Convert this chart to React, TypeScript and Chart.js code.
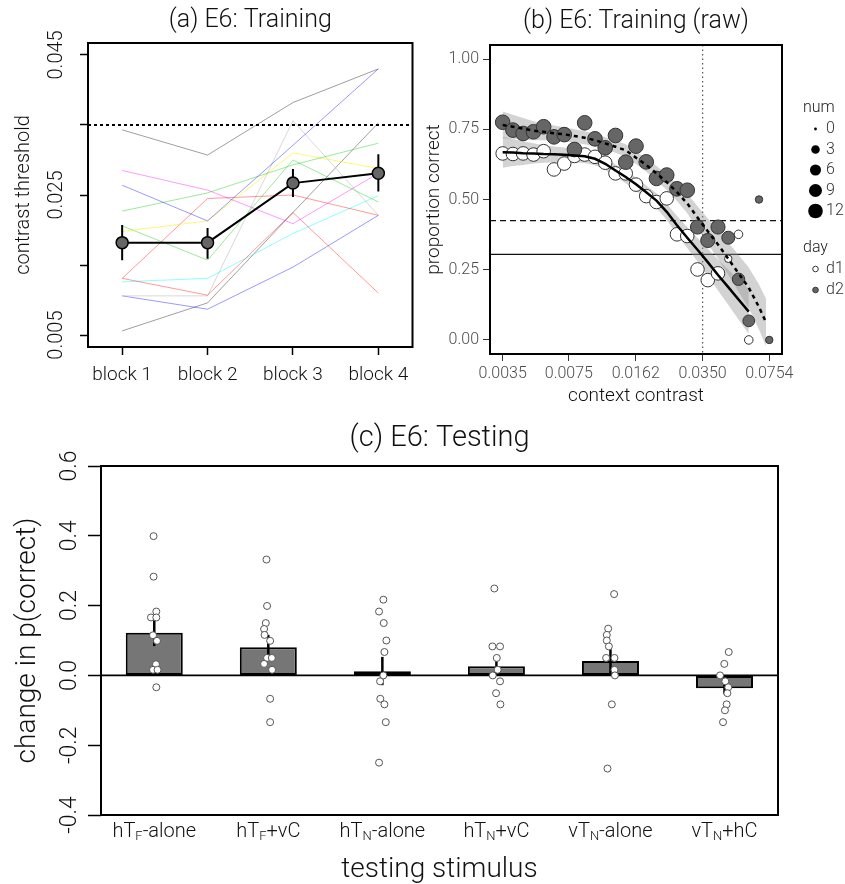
import React, { useEffect, useRef } from 'react';
import { Chart, registerables } from 'chart.js';
Chart.register(...registerables);

const FONT = 'Roboto';
const FW = '300';
Chart.defaults.font.family = FONT;
Chart.defaults.font.weight = FW as any;
Chart.defaults.color = '#111';

// ---------------- Panel (a) data ----------------
const A_TITLE = '(a) E6: Training';
const A_BLOCKS = [1, 2, 3, 4];
const A_BLOCK_LABELS = ['block 1', 'block 2', 'block 3', 'block 4'];
const A_Y_TICKS = [0.005, 0.015, 0.025, 0.035, 0.045];
const A_Y_LABELS = ['0.005', '', '0.025', '', '0.045'];
const A_THRESHOLD = 0.035;
const A_SUBJ_01 = [0.0343, 0.0307, 0.0382, 0.0430];
const A_SUBJ_02 = [0.0264, 0.0213, 0.0321, 0.0430];
const A_SUBJ_03 = [0.0285, 0.0257, 0.0209, 0.0281];
const A_SUBJ_04 = [0.0227, 0.0253, 0.0293, 0.0324];
const A_SUBJ_05 = [0.0198, 0.0213, 0.0310, 0.0288];
const A_SUBJ_06 = [0.0206, 0.0157, 0.0300, 0.0240];
const A_SUBJ_07 = [0.0131, 0.0245, 0.0250, 0.0221];
const A_SUBJ_08 = [0.0131, 0.0107, 0.0225, 0.0110];
const A_SUBJ_09 = [0.0126, 0.0131, 0.0195, 0.0249];
const A_SUBJ_10 = [0.0106, 0.0106, 0.0356, 0.0221];
const A_SUBJ_11 = [0.0106, 0.0087, 0.0147, 0.0221];
const A_SUBJ_12 = [0.0056, 0.0096, 0.0225, 0.0353];
const A_SUBJ_COLORS = [
  'rgba(0,0,0,0.38)', 'rgba(0,0,255,0.4)', 'rgba(255,0,255,0.4)', 'rgba(0,205,0,0.4)',
  'rgba(255,240,0,0.55)', 'rgba(0,205,0,0.4)', 'rgba(255,0,0,0.4)', 'rgba(255,0,0,0.4)',
  'rgba(0,255,255,0.45)', 'rgba(190,190,190,0.6)', 'rgba(0,0,255,0.4)', 'rgba(0,0,0,0.38)',
];
const A_MEAN = [0.0182, 0.0182, 0.0267, 0.0281];
const A_MEAN_LO = [0.0157, 0.0159, 0.0247, 0.0255];
const A_MEAN_HI = [0.0207, 0.0203, 0.0287, 0.0308];

// ---------------- Panel (b) data ----------------
const B_TITLE = '(b) E6: Training (raw)';
const B_CONTRAST = [
  0.0035, 0.00394, 0.00443, 0.00499, 0.00561, 0.00632, 0.00711, 0.0080, 0.0090,
  0.01013, 0.0114, 0.01283, 0.01444, 0.01625, 0.01828, 0.02057, 0.02315, 0.02605,
  0.02932, 0.03299, 0.03713, 0.04178, 0.04702, 0.05291, 0.05954, 0.0670, 0.0754,
];
const B_X_TICKS = [0.0035, 0.0075, 0.0162, 0.035, 0.0754];
const B_Y_TICKS = [0, 0.25, 0.5, 0.75, 1];
const B_D1_PROP = [0.664, 0.662, 0.664, 0.660, 0.672, 0.607, 0.628, 0.655, 0.660, 0.652, 0.631, 0.593, 0.593, 0.553, 0.512, 0.491, 0.504, 0.376, 0.370, 0.251, 0.213, 0.237, 0.289, 0.376, 0.000];
const B_D1_NUM = [10, 10, 10, 10, 10, 10, 10, 10, 10, 10, 10, 10, 10, 10, 10, 10, 10, 10, 10, 10, 10, 10, 2, 3, 3];
const B_D2_PROP = [0.775, 0.747, 0.735, 0.741, 0.759, 0.723, 0.731, 0.678, 0.773, 0.716, 0.684, 0.728, 0.633, 0.690, 0.634, 0.575, 0.587, 0.538, 0.533, 0.402, 0.354, 0.402, 0.364, 0.216, 0.068, 0.500, 0.000];
const B_D2_NUM = [12, 12, 12, 12, 12, 12, 12, 12, 12, 12, 12, 12, 12, 12, 12, 12, 12, 12, 12, 11, 11, 11, 9, 8, 7, 2, 2];
const B_FIT1 = [0.668, 0.667, 0.665, 0.664, 0.662, 0.661, 0.659, 0.657, 0.654, 0.645, 0.627, 0.603, 0.580, 0.554, 0.526, 0.496, 0.456, 0.408, 0.364, 0.321, 0.277, 0.231, 0.188, 0.144, 0.101];
const B_FIT1_LO = [0.613, 0.619, 0.623, 0.628, 0.631, 0.633, 0.633, 0.632, 0.630, 0.622, 0.605, 0.581, 0.558, 0.531, 0.502, 0.470, 0.427, 0.375, 0.327, 0.279, 0.229, 0.176, 0.125, 0.073, 0.021];
const B_FIT1_HI = [0.723, 0.715, 0.707, 0.700, 0.693, 0.689, 0.685, 0.682, 0.678, 0.668, 0.649, 0.625, 0.602, 0.577, 0.550, 0.522, 0.485, 0.441, 0.401, 0.363, 0.325, 0.286, 0.251, 0.215, 0.181];
const B_FIT2_X = [
  0.0035, 0.00394, 0.00443, 0.00499, 0.00561, 0.00632, 0.00711, 0.0080, 0.0090,
  0.01013, 0.0114, 0.01283, 0.01444, 0.01625, 0.01828, 0.02057, 0.02315, 0.02605,
  0.02932, 0.03299, 0.03713, 0.04178, 0.04702, 0.05291, 0.05954, 0.0670, 0.0727,
];
const B_FIT2 = [0.765, 0.759, 0.752, 0.745, 0.741, 0.736, 0.732, 0.726, 0.720, 0.711, 0.700, 0.688, 0.675, 0.649, 0.623, 0.593, 0.562, 0.526, 0.486, 0.436, 0.387, 0.340, 0.289, 0.237, 0.186, 0.117, 0.062];
const B_FIT2_LO = [0.717, 0.716, 0.714, 0.711, 0.711, 0.709, 0.707, 0.702, 0.697, 0.689, 0.678, 0.666, 0.653, 0.626, 0.599, 0.567, 0.534, 0.495, 0.451, 0.396, 0.342, 0.289, 0.231, 0.172, 0.114, 0.037, -0.023];
const B_FIT2_HI = [0.813, 0.802, 0.790, 0.779, 0.771, 0.763, 0.757, 0.750, 0.743, 0.733, 0.722, 0.710, 0.697, 0.672, 0.647, 0.619, 0.590, 0.557, 0.521, 0.476, 0.432, 0.391, 0.347, 0.302, 0.258, 0.197, 0.147];
const B_HLINE_DASHED = 0.425;
const B_HLINE_SOLID = 0.305;
const B_VLINE = 0.035;
const B_NUM_BREAKS = [0, 3, 6, 9, 12];
const B_NUM_MAX = 12;
const B_DAY_LABELS = ['d1', 'd2'];

// ---------------- Panel (c) data ----------------
const C_TITLE = '(c) E6: Testing';
const C_LABELS = ['hT_F-alone', 'hT_F+vC', 'hT_N-alone', 'hT_N+vC', 'vT_N-alone', 'vT_N+hC'];
const C_MEANS = [0.122, 0.081, 0.012, 0.026, 0.041, -0.037];
const C_ERR_LO = [0.084, 0.050, -0.028, 0.0, 0.003, -0.054];
const C_ERR_HI = [0.160, 0.116, 0.053, 0.053, 0.080, -0.012];
const C_Y_TICKS = [-0.4, -0.2, 0, 0.2, 0.4, 0.6];
const C_Y_LABELS = ['-0.4', '-0.2', '0.0', '0.2', '0.4', '0.6'];
const C_PTS_1 = [0.399, 0.283, 0.183, 0.166, 0.166, 0.115, 0.099, 0.032, 0.016, 0.016, -0.034];
const C_JIT_1 = [-0.006, -0.006, 0.018, -0.029, 0.018, -0.011, 0.024, 0.015, -0.011, 0.029, 0.018];
const C_PTS_2 = [0.332, 0.199, 0.150, 0.133, 0.116, 0.099, 0.050, 0.050, 0.033, 0.016, -0.067, -0.134];
const C_JIT_2 = [-0.016, -0.011, -0.022, -0.037, -0.033, 0.016, -0.011, 0.031, -0.037, 0.033, 0.016, 0.016];
const C_PTS_3 = [0.217, 0.183, 0.150, 0.100, 0.067, 0.0, -0.017, -0.067, -0.083, -0.134, -0.250];
const C_JIT_3 = [0.009, -0.029, 0.012, 0.035, 0.018, 0.009, -0.020, -0.018, 0.018, 0.030, -0.029];
const C_PTS_4 = [0.249, 0.083, 0.083, 0.050, 0.016, 0.0, -0.017, -0.051, -0.083];
const C_JIT_4 = [-0.018, -0.035, 0.032, 0.003, 0.011, -0.032, 0.032, -0.003, 0.035];
const C_PTS_5 = [0.233, 0.134, 0.116, 0.100, 0.083, 0.050, 0.050, 0.016, 0.0, -0.083, -0.267];
const C_JIT_5 = [0.032, -0.020, -0.032, -0.032, -0.014, -0.038, 0.035, 0.035, 0.039, 0.012, -0.026];
const C_PTS_6 = [0.067, 0.033, 0.0, -0.017, -0.034, -0.051, -0.083, -0.100, -0.134];
const C_JIT_6 = [0.037, -0.002, -0.039, 0.007, 0.033, 0.025, 0.019, 0.004, -0.013];

// ---------------- helpers / plugins ----------------
// ggplot-like area size scale: diameter from 1 to 6 units over sqrt(num / max)
const sizeFor = (n: number) => 1.22 * (1 + 5 * Math.sqrt(n / B_NUM_MAX));
const fnt = (size: number) => `${FW} ${size}px ${FONT}`;

const boxPlugin = {
  id: 'box',
  afterDatasetsDraw(chart: any, _a: any, o: any) {
    const { ctx, chartArea: a } = chart;
    ctx.save();
    ctx.strokeStyle = '#000';
    ctx.lineWidth = o.width || 2;
    ctx.strokeRect(a.left, a.top, a.right - a.left, a.bottom - a.top);
    ctx.restore();
  },
};

const rotYPlugin = {
  id: 'rotY',
  afterDraw(chart: any, _a: any, o: any) {
    const s = chart.scales.y;
    const ctx = chart.ctx;
    ctx.save();
    ctx.font = fnt(o.size);
    ctx.fillStyle = o.color || '#111';
    ctx.textAlign = 'center';
    ctx.textBaseline = 'middle';
    o.values.forEach((v: number, i: number) => {
      const lab = o.labels[i];
      if (!lab) return;
      const y = s.getPixelForValue(v);
      ctx.save();
      ctx.translate(o.x, y);
      ctx.rotate(-Math.PI / 2);
      ctx.fillText(lab, 0, 0);
      ctx.restore();
    });
    ctx.restore();
  },
};

const refLinesPlugin = {
  id: 'refLines',
  beforeDatasetsDraw(chart: any, _a: any, o: any) {
    const { ctx, chartArea: a, scales } = chart;
    ctx.save();
    (o.h || []).forEach((h: any) => {
      const y = scales.y.getPixelForValue(h.value);
      ctx.setLineDash(h.dash || []);
      ctx.lineWidth = h.width;
      ctx.strokeStyle = h.color;
      ctx.beginPath();
      ctx.moveTo(a.left, y);
      ctx.lineTo(a.right, y);
      ctx.stroke();
    });
    (o.v || []).forEach((v: any) => {
      const x = scales.x.getPixelForValue(v.value);
      ctx.setLineDash(v.dash || []);
      ctx.lineWidth = v.width;
      ctx.strokeStyle = v.color;
      ctx.beginPath();
      ctx.moveTo(x, a.top);
      ctx.lineTo(x, a.bottom);
      ctx.stroke();
    });
    ctx.restore();
  },
};

const sizeLegendPlugin = {
  id: 'sizeLegend',
  afterDraw(chart: any, _a: any, o: any) {
    const ctx = chart.ctx;
    ctx.save();
    ctx.textBaseline = 'middle';
    ctx.textAlign = 'left';
    ctx.font = fnt(16);
    ctx.fillStyle = '#222';
    ctx.fillText('num', o.x, o.numY);
    B_NUM_BREAKS.forEach((n, i) => {
      const y = o.numY + 21 + i * 20.5;
      ctx.beginPath();
      ctx.arc(o.symX, y, n === 0 ? 1.4 : sizeFor(n), 0, Math.PI * 2);
      ctx.fillStyle = '#000';
      ctx.fill();
      ctx.fillStyle = '#333';
      ctx.fillText(String(n), o.labX, y);
    });
    ctx.fillStyle = '#222';
    ctx.fillText('day', o.x, o.dayY);
    B_DAY_LABELS.forEach((d, i) => {
      const y = o.dayY + 21 + i * 21;
      ctx.beginPath();
      ctx.arc(o.symX, y, 2.8, 0, Math.PI * 2);
      ctx.fillStyle = i === 0 ? '#fff' : '#666';
      ctx.fill();
      ctx.lineWidth = 1;
      ctx.strokeStyle = '#333';
      ctx.stroke();
      ctx.fillStyle = '#333';
      ctx.fillText(d, o.labX, y);
    });
    ctx.restore();
  },
};

function parseSub(label: string) {
  const parts: { t: string; sub: boolean }[] = [];
  let buf = '';
  for (let i = 0; i < label.length; i++) {
    if (label[i] === '_') {
      if (buf) parts.push({ t: buf, sub: false });
      buf = '';
      parts.push({ t: label[i + 1], sub: true });
      i++;
    } else buf += label[i];
  }
  if (buf) parts.push({ t: buf, sub: false });
  return parts;
}

const subLabelsPlugin = {
  id: 'subLabels',
  afterDraw(chart: any, _a: any, o: any) {
    const ctx = chart.ctx;
    const s = chart.scales.x;
    const y0 = chart.chartArea.bottom + o.offset;
    ctx.save();
    ctx.fillStyle = '#111';
    ctx.textBaseline = 'middle';
    ctx.textAlign = 'left';
    o.labels.forEach((lab: string, i: number) => {
      const parts = parseSub(lab);
      let w = 0;
      parts.forEach((p) => {
        ctx.font = fnt(p.sub ? o.subSize : o.size);
        w += ctx.measureText(p.t).width;
      });
      let x = s.getPixelForValue(i) - w / 2;
      parts.forEach((p) => {
        ctx.font = fnt(p.sub ? o.subSize : o.size);
        ctx.fillText(p.t, x, p.sub ? y0 + 5 : y0);
        x += ctx.measureText(p.t).width;
      });
    });
    ctx.restore();
  },
};

const noHover = { legend: { display: false }, tooltip: { enabled: false } };

// ---------------- Panel (a) ----------------
function PanelA() {
  const ref = useRef<HTMLCanvasElement>(null);
  useEffect(() => {
    const subjects = [A_SUBJ_01, A_SUBJ_02, A_SUBJ_03, A_SUBJ_04, A_SUBJ_05, A_SUBJ_06, A_SUBJ_07, A_SUBJ_08, A_SUBJ_09, A_SUBJ_10, A_SUBJ_11, A_SUBJ_12];
    const datasets: any[] = [];
    datasets.push({
      data: A_BLOCKS.map((b, i) => ({ x: b, y: A_MEAN[i] })),
      borderColor: '#000', borderWidth: 2, pointRadius: 6,
      pointBackgroundColor: '#666', pointBorderColor: '#000', pointBorderWidth: 1.5,
    });
    A_BLOCKS.forEach((b, i) => datasets.push({
      data: [{ x: b, y: A_MEAN_LO[i] }, { x: b, y: A_MEAN_HI[i] }],
      borderColor: '#000', borderWidth: 2, pointRadius: 0,
    }));
    datasets.push({
      data: [{ x: 0.6, y: A_THRESHOLD }, { x: 4.4, y: A_THRESHOLD }],
      borderColor: '#000', borderWidth: 2, borderDash: [3, 3], pointRadius: 0,
    });
    subjects.forEach((s, k) => datasets.push({
      data: A_BLOCKS.map((b, i) => ({ x: b, y: s[i] })),
      borderColor: A_SUBJ_COLORS[k], borderWidth: 1, pointRadius: 0,
    }));
    const chart = new Chart(ref.current!, {
      type: 'line',
      data: { datasets },
      plugins: [boxPlugin, rotYPlugin],
      options: {
        animation: false, responsive: false,
        layout: { padding: { left: 0, right: 5, top: 0, bottom: 0 } },
        plugins: {
          ...noHover,
          title: { display: true, text: A_TITLE, fullSize: false, font: { size: 25, weight: FW, lineHeight: 1.2 }, color: '#111', padding: { top: 6, bottom: 7 } },
          box: { width: 2 },
          rotY: { values: A_Y_TICKS, labels: A_Y_LABELS, x: 57, size: 20 },
        } as any,
        scales: {
          x: {
            type: 'linear', min: 0.6, max: 4.4,
            afterBuildTicks: (s: any) => { s.ticks = A_BLOCKS.map((v) => ({ value: v })); },
            afterFit: (s: any) => { s.height = 53; },
            grid: { drawOnChartArea: false, drawTicks: true, tickLength: 8, tickColor: '#000', tickWidth: 1.5 },
            border: { display: false },
            ticks: { padding: 9, font: { size: 19 }, color: '#111', autoSkip: false, maxRotation: 0,
              callback: (v: any) => A_BLOCK_LABELS[A_BLOCKS.indexOf(v)] ?? '' },
          },
          y: {
            type: 'linear', min: 0.0033, max: 0.0467,
            afterBuildTicks: (s: any) => { s.ticks = A_Y_TICKS.map((v) => ({ value: v })); },
            afterFit: (s: any) => { s.width = 88; },
            grid: { drawOnChartArea: false, drawTicks: true, tickLength: 8, tickColor: '#000', tickWidth: 1.5 },
            border: { display: false },
            ticks: { display: false },
            title: { display: true, text: 'contrast threshold', font: { size: 20 }, color: '#111', padding: { top: 12, bottom: 0 } },
          },
        },
      } as any,
    });
    return () => chart.destroy();
  }, []);
  return <canvas ref={ref} width={420} height={400} style={{ position: 'absolute', left: 0, top: 0, width: 420, height: 400 }} />;
}

// ---------------- Panel (b) ----------------
function PanelB() {
  const ref = useRef<HTMLCanvasElement>(null);
  useEffect(() => {
    const ribbon = 'rgba(150,150,150,0.42)';
    const datasets: any[] = [
      { data: B_FIT1.map((v, i) => ({ x: B_CONTRAST[i], y: v })), borderColor: '#000', borderWidth: 2.5, pointRadius: 0 },
      { data: B_FIT2.map((v, i) => ({ x: B_FIT2_X[i], y: v })), borderColor: '#000', borderWidth: 2.5, borderDash: [4, 4], pointRadius: 0 },
      {
        data: B_D2_PROP.map((v, i) => ({ x: B_CONTRAST[i], y: v })), showLine: false,
        pointRadius: (c: any) => sizeFor(B_D2_NUM[c.dataIndex]),
        pointBackgroundColor: '#666', pointBorderColor: '#333', pointBorderWidth: 1,
      },
      {
        data: B_D1_PROP.map((v, i) => ({ x: B_CONTRAST[i], y: v })), showLine: false,
        pointRadius: (c: any) => sizeFor(B_D1_NUM[c.dataIndex]),
        pointBackgroundColor: '#fff', pointBorderColor: '#333', pointBorderWidth: 1,
      },
      { data: B_FIT1_HI.map((v, i) => ({ x: B_CONTRAST[i], y: v })), borderWidth: 0, borderColor: 'rgba(0,0,0,0)', pointRadius: 0 },
      { data: B_FIT1_LO.map((v, i) => ({ x: B_CONTRAST[i], y: v })), borderWidth: 0, borderColor: 'rgba(0,0,0,0)', pointRadius: 0, fill: '-1', backgroundColor: ribbon },
      { data: B_FIT2_HI.map((v, i) => ({ x: B_FIT2_X[i], y: v })), borderWidth: 0, borderColor: 'rgba(0,0,0,0)', pointRadius: 0 },
      { data: B_FIT2_LO.map((v, i) => ({ x: B_FIT2_X[i], y: v })), borderWidth: 0, borderColor: 'rgba(0,0,0,0)', pointRadius: 0, fill: '-1', backgroundColor: ribbon },
    ];
    const chart = new Chart(ref.current!, {
      type: 'line',
      data: { datasets },
      plugins: [boxPlugin, refLinesPlugin, sizeLegendPlugin],
      options: {
        animation: false, responsive: false,
        layout: { padding: { left: 0, right: 63, top: 0, bottom: 0 } },
        plugins: {
          ...noHover,
          title: { display: true, text: B_TITLE, fullSize: false, font: { size: 25, weight: FW, lineHeight: 1.2 }, color: '#111', padding: { top: 6.7, bottom: 8.3 } },
          box: { width: 2 },
          refLines: {
            h: [
              { value: B_HLINE_DASHED, dash: [6, 4], width: 1.2, color: '#111' },
              { value: B_HLINE_SOLID, dash: [], width: 1.2, color: '#111' },
            ],
            v: [{ value: B_VLINE, dash: [1.5, 3], width: 1.2, color: '#555' }],
          },
          sizeLegend: { x: 383, numY: 108, symX: 395.5, labX: 406, dayY: 248 },
        } as any,
        scales: {
          x: {
            type: 'logarithmic', min: 0.003025, max: 0.0873,
            afterBuildTicks: (s: any) => { s.ticks = B_X_TICKS.map((v) => ({ value: v })); },
            afterFit: (s: any) => { s.height = 56; },
            grid: { drawOnChartArea: false, drawTicks: true, tickLength: 7, tickColor: '#333', tickWidth: 1 },
            border: { display: false },
            ticks: { padding: 3, font: { size: 16 }, color: '#4d4d4d', autoSkip: false, maxRotation: 0,
              callback: (v: any) => Number(v).toFixed(4) },
            title: { display: true, text: 'context contrast', font: { size: 19 }, color: '#111', padding: { top: 0, bottom: 2 } },
          },
          y: {
            type: 'linear', min: -0.05, max: 1.05,
            afterBuildTicks: (s: any) => { s.ticks = B_Y_TICKS.map((v) => ({ value: v })); },
            afterFit: (s: any) => { s.width = 70; },
            grid: { drawOnChartArea: false, drawTicks: true, tickLength: 7, tickColor: '#333', tickWidth: 1 },
            border: { display: false },
            ticks: { padding: 4, font: { size: 16 }, color: '#4d4d4d', callback: (v: any) => Number(v).toFixed(2) },
            title: { display: true, text: 'proportion correct', font: { size: 19 }, color: '#111', padding: { top: 3, bottom: 0 } },
          },
        },
      } as any,
    });
    return () => chart.destroy();
  }, []);
  return <canvas ref={ref} width={425} height={410} style={{ position: 'absolute', left: 420, top: 0, width: 425, height: 410 }} />;
}

// ---------------- Panel (c) ----------------
function PanelC() {
  const ref = useRef<HTMLCanvasElement>(null);
  useEffect(() => {
    const pts = [C_PTS_1, C_PTS_2, C_PTS_3, C_PTS_4, C_PTS_5, C_PTS_6];
    const jit = [C_JIT_1, C_JIT_2, C_JIT_3, C_JIT_4, C_JIT_5, C_JIT_6];
    const pointData: { x: number; y: number }[] = [];
    pts.forEach((arr, i) => arr.forEach((v, j) => pointData.push({ x: i + jit[i][j], y: v })));
    const datasets: any[] = [];
    datasets.push({
      type: 'line', data: pointData, showLine: false, pointRadius: 3.5,
      pointBackgroundColor: '#fff', pointBorderColor: '#555', pointBorderWidth: 1,
    });
    C_MEANS.forEach((_, i) => datasets.push({
      type: 'line', data: [{ x: i, y: C_ERR_LO[i] }, { x: i, y: C_ERR_HI[i] }],
      borderColor: '#000', borderWidth: 2.5, pointRadius: 0,
    }));
    datasets.push({
      type: 'bar', data: C_MEANS.map((m, i) => ({ x: i, y: m })),
      backgroundColor: '#767676', borderColor: '#000', borderWidth: 2, borderSkipped: false,
      barPercentage: 0.5, categoryPercentage: 1,
    });
    const chart = new Chart(ref.current!, {
      type: 'bar',
      data: { datasets },
      plugins: [boxPlugin, rotYPlugin, subLabelsPlugin, refLinesPlugin],
      options: {
        animation: false, responsive: false,
        layout: { padding: { left: 0, right: 67, top: 0, bottom: 0 } },
        plugins: {
          ...noHover,
          title: { display: true, text: C_TITLE, fullSize: false, font: { size: 29, weight: FW, lineHeight: 1.2 }, color: '#111', padding: { top: 11.6, bottom: 9.6 } },
          box: { width: 2 },
          rotY: { values: C_Y_TICKS, labels: C_Y_LABELS, x: 70, size: 23 },
          subLabels: { labels: C_LABELS, offset: 17, size: 20, subSize: 13 },
          refLines: { h: [{ value: 0, dash: [], width: 1.8, color: '#000' }] },
        } as any,
        scales: {
          x: {
            type: 'linear', min: -0.467, max: 5.469, offset: false,
            afterBuildTicks: (s: any) => { s.ticks = C_MEANS.map((_, i) => ({ value: i })); },
            afterFit: (s: any) => { s.height = 69; },
            grid: { display: false },
            border: { display: false },
            ticks: { display: false },
            title: { display: true, text: 'testing stimulus', font: { size: 28, lineHeight: 1 }, color: '#111', padding: { top: 0, bottom: 0 } },
          },
          y: {
            type: 'linear', min: -0.4, max: 0.6,
            afterBuildTicks: (s: any) => { s.ticks = C_Y_TICKS.map((v) => ({ value: v })); },
            afterFit: (s: any) => { s.width = 101; },
            grid: { drawOnChartArea: false, drawTicks: true, tickLength: 13, tickColor: '#000', tickWidth: 1.5 },
            border: { display: false },
            ticks: { display: false },
            title: { display: true, text: 'change in p(correct)', font: { size: 28, lineHeight: 1.2 }, color: '#111', padding: { top: 11, bottom: 0 } },
          },
        },
      } as any,
    });
    return () => chart.destroy();
  }, []);
  return <canvas ref={ref} width={845} height={474} style={{ position: 'absolute', left: 0, top: 410, width: 845, height: 474 }} />;
}

export default function App() {
  return (
    <div style={{ position: 'absolute', left: 0, top: 0, width: 845, height: 884, background: '#fff' }}>
      <PanelC />
      <PanelA />
      <PanelB />
    </div>
  );
}
